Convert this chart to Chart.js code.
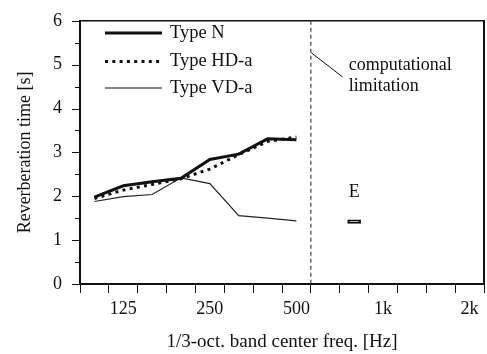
<!DOCTYPE html>
<html>
<head>
<meta charset="utf-8">
<script src="https://cdn.jsdelivr.net/npm/chart.js@4/dist/chart.umd.min.js"></script>
<style>
html,body{margin:0;padding:0;background:#fff;}
canvas{display:block;}
</style>
</head>
<body>
<canvas id="c" width="487" height="354"></canvas>
<script>
// ---- data ----
const freqLabels = ['100','125','160','200','250','315','400','500','630','800','1k','1.25k','1.6k','2k'];
const shownTickLabels = ['125','250','500','1k','2k'];
const typeN   = [1.98, 2.24, 2.33, 2.41, 2.84, 2.96, 3.31, 3.29];
const typeHDa = [1.95, 2.14, 2.27, 2.40, 2.62, 2.95, 3.25, 3.35];
const typeVDa = [1.88, 1.99, 2.04, 2.42, 2.29, 1.56, 1.50, 1.44];
const eBand = '800';
const eRange = [1.38, 1.46];
const yMajorTicks = [0, 1, 2, 3, 4, 5, 6];
const seriesNames = ['Type N', 'Type HD-a', 'Type VD-a'];

const FONT = '"Liberation Serif", "Times New Roman", serif';
const INK = '#111';

const eData = freqLabels.map(l => l === eBand ? eRange : null);

const decorPlugin = {
  id: 'decor',
  afterDraw(chart) {
    const {ctx, chartArea: a, scales: {x, y}} = chart;
    ctx.save();
    // top & right frame
    ctx.strokeStyle = INK;
    ctx.lineWidth = 1.5;
    ctx.beginPath(); ctx.moveTo(a.left, a.top); ctx.lineTo(a.right, a.top); ctx.stroke();
    ctx.lineWidth = 2;
    ctx.beginPath(); ctx.moveTo(a.right, a.top - 0.75); ctx.lineTo(a.right, a.bottom); ctx.stroke();
    // y ticks
    ctx.lineWidth = 1;
    for (let v = 0; v <= 6.001; v += 0.5) {
      const py = Math.round(y.getPixelForValue(v)) + 0.5;
      const major = yMajorTicks.includes(Math.round(v * 2) / 2);
      const len = major ? 8 : 5;
      ctx.beginPath(); ctx.moveTo(a.left - len, py); ctx.lineTo(a.left, py); ctx.stroke();
    }
    // dashed "computational limitation" line between 500 and 630
    const xd = (x.getPixelForValue(7) + x.getPixelForValue(8)) / 2;
    ctx.strokeStyle = '#444';
    ctx.lineWidth = 1.2;
    ctx.setLineDash([4, 3]);
    ctx.beginPath(); ctx.moveTo(xd, a.top); ctx.lineTo(xd, a.bottom); ctx.stroke();
    ctx.setLineDash([]);
    // leader line
    ctx.strokeStyle = INK;
    ctx.lineWidth = 1;
    ctx.beginPath();
    ctx.moveTo(xd + 0.5, y.getPixelForValue(5.27));
    ctx.lineTo(x.getPixelForValue(8.6), y.getPixelForValue(4.72));
    ctx.stroke();
    // annotation text
    ctx.fillStyle = INK;
    ctx.font = '18px ' + FONT;
    ctx.textAlign = 'left';
    ctx.textBaseline = 'middle';
    ctx.fillText('computational', x.getPixelForValue(8.81), y.getPixelForValue(4.98));
    ctx.fillText('limitation', x.getPixelForValue(8.81), y.getPixelForValue(4.51));
    // E label
    ctx.textAlign = 'center';
    ctx.fillText('E', x.getPixelForValue(9), y.getPixelForValue(2.08));
    // legend
    const rows = [33, 61.5, 88];
    const styles = [
      {w: 3, dash: []},
      {w: 3, dash: [3, 4.3]},
      {w: 1.2, dash: []}
    ];
    ctx.textAlign = 'left';
    ctx.font = '18.5px ' + FONT;
    rows.forEach((ry, i) => {
      ctx.strokeStyle = INK;
      ctx.lineWidth = styles[i].w;
      ctx.setLineDash(styles[i].dash);
      ctx.beginPath(); ctx.moveTo(105, ry); ctx.lineTo(162, ry); ctx.stroke();
      ctx.setLineDash([]);
      ctx.fillText(seriesNames[i], 170, ry);
    });
    ctx.restore();
  }
};

new Chart(document.getElementById('c'), {
  type: 'line',
  data: {
    labels: freqLabels,
    datasets: [
      {label: seriesNames[0], data: typeN, borderColor: INK, borderWidth: 3, pointRadius: 0, tension: 0, fill: false},
      {label: seriesNames[1], data: typeHDa, borderColor: INK, borderWidth: 3, borderDash: [3, 4.3], pointRadius: 0, tension: 0, fill: false},
      {label: seriesNames[2], data: typeVDa, borderColor: '#222', borderWidth: 1.2, pointRadius: 0, tension: 0, fill: false},
      {type: 'bar', label: 'E', data: eData, borderColor: INK, backgroundColor: '#ddd', borderWidth: 2.2, borderSkipped: false, barThickness: 13}
    ]
  },
  options: {
    responsive: false,
    animation: false,
    devicePixelRatio: 1,
    layout: {padding: {top: 14, right: 3, left: 0, bottom: 0}},
    plugins: {legend: {display: false}, tooltip: {enabled: false}},
    scales: {
      x: {
        type: 'category',
        offset: true,
        grid: {offset: true, drawOnChartArea: false, drawTicks: true, tickLength: 9, color: INK, lineWidth: 1},
        border: {display: true, width: 2, color: INK},
        ticks: {
          autoSkip: false, maxRotation: 0, minRotation: 0, padding: 5,
          color: INK, font: {family: FONT, size: 18},
          callback: (v, i) => shownTickLabels.includes(freqLabels[i]) ? freqLabels[i] : ''
        },
        title: {display: true, text: '1/3-oct. band center freq. [Hz]', color: INK, font: {family: FONT, size: 19}, padding: {top: 0, bottom: 1}},
        afterFit(s) { s.height = 70; }
      },
      y: {
        min: 0, max: 6,
        grid: {drawOnChartArea: false, drawTicks: true, tickLength: 8, tickColor: 'rgba(0,0,0,0)'},
        border: {display: true, width: 2, color: INK},
        ticks: {
          stepSize: 0.5, padding: 10, color: INK, font: {family: FONT, size: 18},
          callback: v => yMajorTicks.includes(v) ? String(v) : ''
        },
        title: {display: true, text: 'Reverberation time [s]', color: INK, font: {family: FONT, size: 18}, padding: {top: 14, bottom: 0}},
        afterFit(s) { s.width = 80; }
      }
    }
  },
  plugins: [decorPlugin]
});
</script>
</body>
</html>
